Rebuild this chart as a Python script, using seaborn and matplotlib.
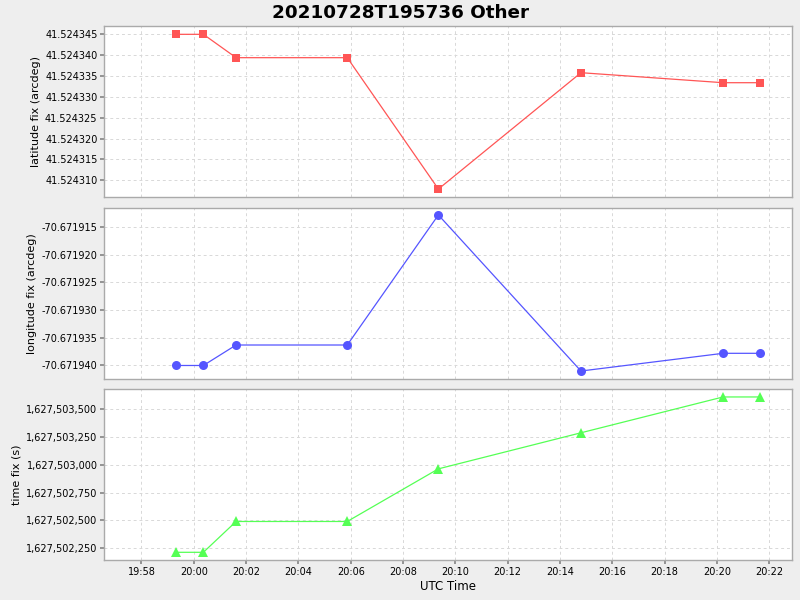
import numpy as np
import pandas as pd
import matplotlib
matplotlib.use("Agg")
import matplotlib.pyplot as plt
import matplotlib.dates as mdates
from matplotlib.ticker import FuncFormatter, MultipleLocator
import seaborn as sns

# data
utc_times = ["19:59:20", "20:00:22", "20:01:37", "20:05:52",
             "20:09:21", "20:14:48", "20:20:14", "20:21:39"]
latitude = [41.5243450, 41.5243450, 41.5243394, 41.5243394,
            41.5243079, 41.5243358, 41.5243334, 41.5243334]
longitude = [-70.6719400, -70.6719400, -70.6719363, -70.6719363,
             -70.6719128, -70.6719410, -70.6719378, -70.6719378]
time_fix = [1627502214, 1627502214, 1627502491, 1627502491,
            1627502964, 1627503288, 1627503610, 1627503610]

df = pd.DataFrame({
    "time": pd.to_datetime(["2021-07-28 " + t for t in utc_times]),
    "lat": latitude,
    "lon": longitude,
    "tfix": time_fix,
})

sns.set_theme(style="white")
plt.rcParams["font.family"] = ["DejaVu Sans"]
plt.rcParams.update({"text.color": "black", "axes.labelcolor": "black",
                     "xtick.color": "black", "ytick.color": "black"})

fig = plt.figure(figsize=(8, 6), dpi=100, facecolor="#EEEEEE")
left, width = 0.1305, 0.8595
ax1 = fig.add_axes([left, 0.6717, width, 0.2850])
ax2 = fig.add_axes([left, 0.3678, width, 0.2850], sharex=ax1)
ax3 = fig.add_axes([left, 0.0667, width, 0.2845], sharex=ax1)

sns.lineplot(data=df, x="time", y="lat", ax=ax1, color="#FF5555", marker="s",
             markersize=6, markeredgewidth=0, linewidth=0.9)
sns.lineplot(data=df, x="time", y="lon", ax=ax2, color="#5555FF", marker="o",
             markersize=6.5, markeredgewidth=0, linewidth=0.9)
sns.lineplot(data=df, x="time", y="tfix", ax=ax3, color="#55FF55", marker="^",
             markersize=7, markeredgewidth=0, linewidth=0.9)

ax1.set_ylim(41.524306, 41.524347)
ax1.yaxis.set_major_locator(MultipleLocator(0.000005))
ax1.yaxis.set_major_formatter(FuncFormatter(lambda v, p: f"{v:.6f}"))
ax1.set_ylabel("latitude fix (arcdeg)")

ax2.set_ylim(-70.6719425, -70.6719116)
ax2.yaxis.set_major_locator(MultipleLocator(0.000005))
ax2.yaxis.set_major_formatter(FuncFormatter(lambda v, p: f"{v:.6f}"))
ax2.set_ylabel("longitude fix (arcdeg)")

ax3.set_ylim(1627502145, 1627503679)
ax3.yaxis.set_major_locator(MultipleLocator(250))
ax3.yaxis.set_major_formatter(FuncFormatter(lambda v, p: f"{v:,.0f}"))
ax3.set_ylabel("time fix (s)")

ax3.set_xlim(pd.Timestamp("2021-07-28 19:56:35"), pd.Timestamp("2021-07-28 20:22:52"))
ax3.xaxis.set_major_locator(mdates.MinuteLocator(byminute=range(0, 60, 2)))
ax3.xaxis.set_major_formatter(mdates.DateFormatter("%H:%M"))
ax3.set_xlabel("UTC Time", fontsize=8.5, labelpad=2)

for ax in (ax1, ax2, ax3):
    ax.set_facecolor("white")
    ax.grid(True, color="#D8D8D8", linestyle=(0, (3, 3)), linewidth=0.7)
    ax.tick_params(axis="both", labelsize=7, length=3, color="#888888",
                   direction="out", left=True, bottom=True, pad=2)
    ax.yaxis.label.set_size(8)
    ax.yaxis.labelpad = 3
    for s in ax.spines.values():
        s.set_color("#AAAAAA")
        s.set_linewidth(1)
for ax in (ax1, ax2):
    ax.set_xlabel("")
    ax.tick_params(axis="x", labelbottom=False, length=0)

fig.suptitle("20210728T195736 Other", fontsize=13.2, fontweight="bold", y=0.993)
fig.savefig("out.png", dpi=100, facecolor=fig.get_facecolor())
